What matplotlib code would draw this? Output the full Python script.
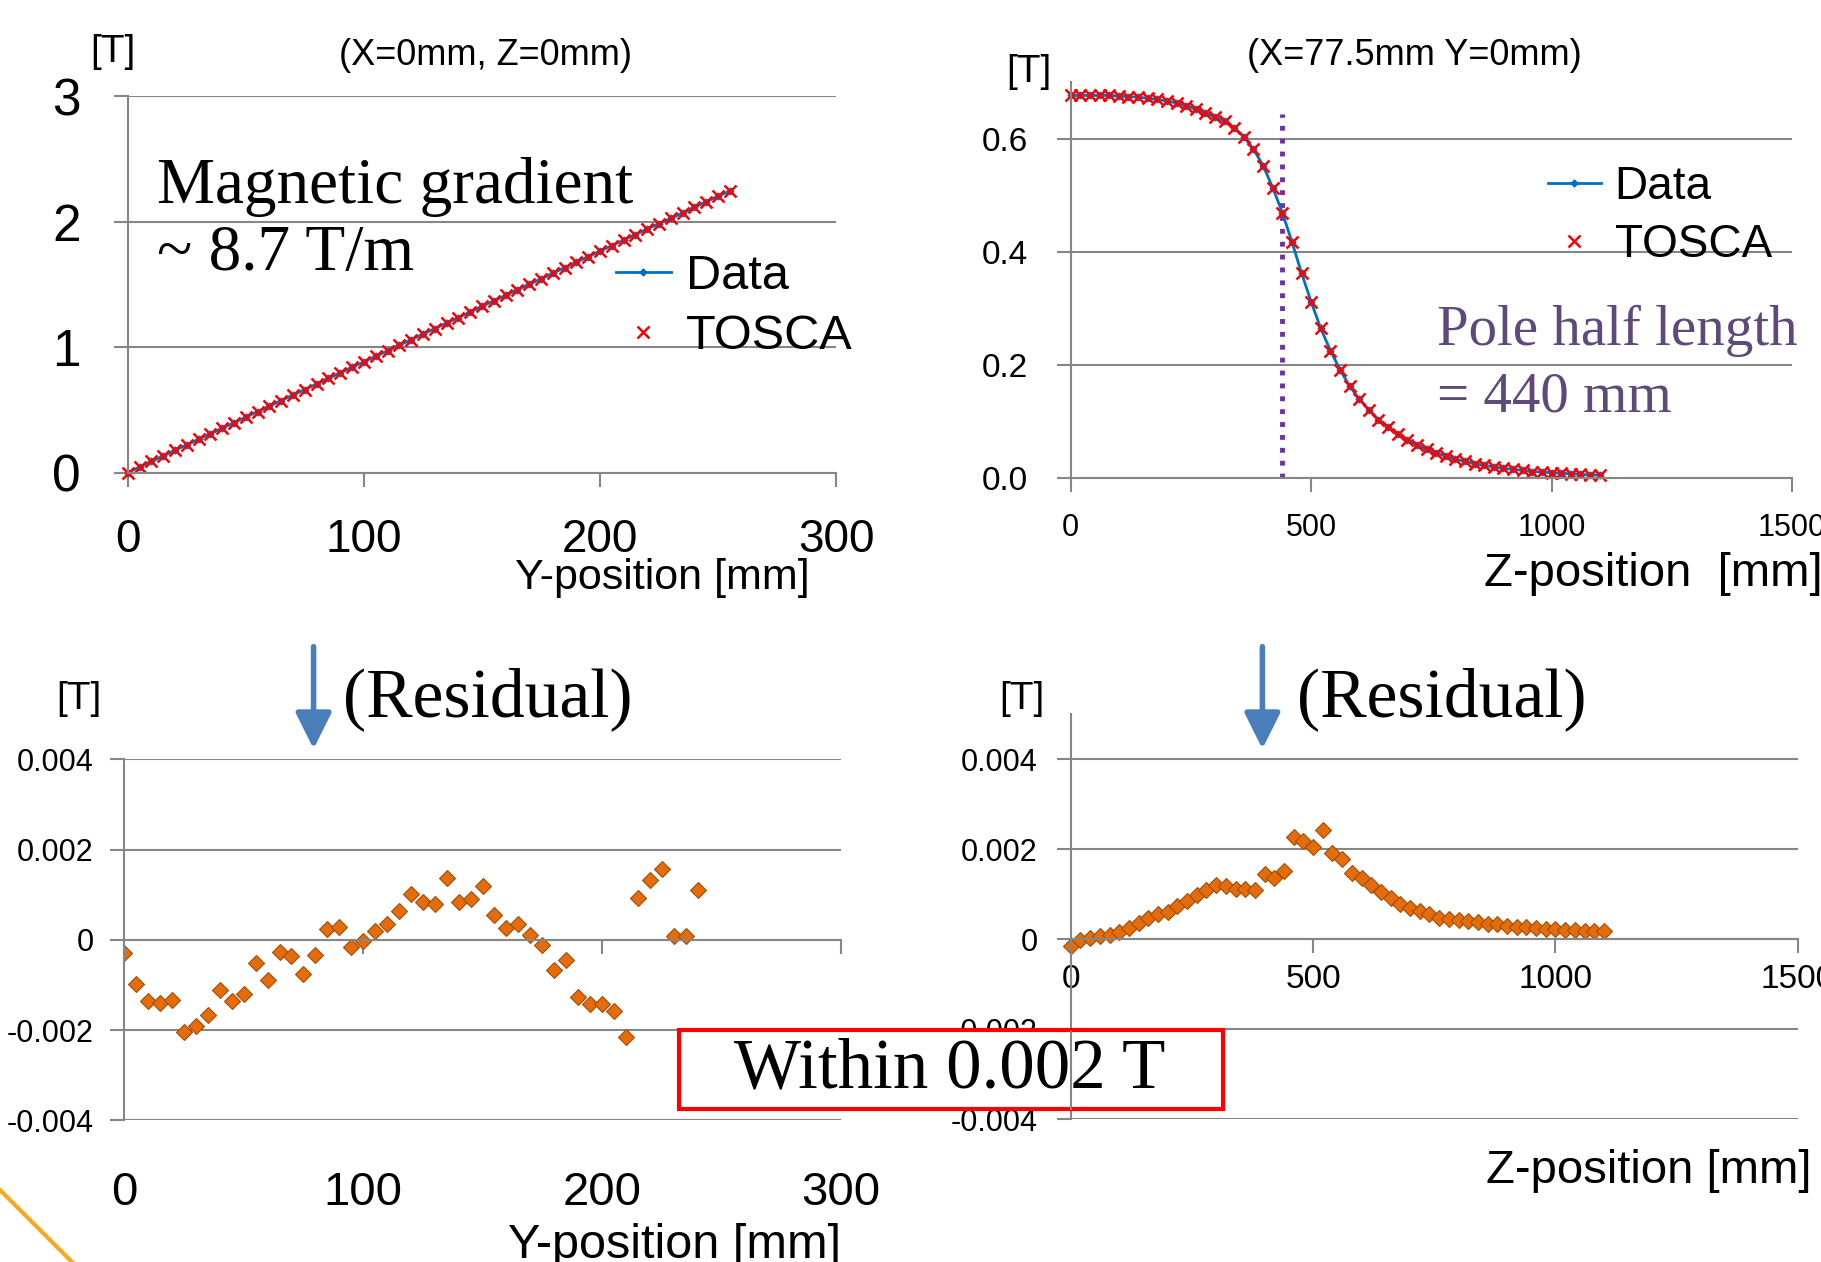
import numpy as np
import matplotlib.pyplot as plt
from matplotlib.lines import Line2D
from matplotlib.patches import Rectangle, FancyArrowPatch

plt.rcParams['font.family'] = ['Liberation Sans', 'DejaVu Sans']

# Y scan at X=0mm, Z=0mm  (field in T)
y_pos = np.arange(0, 256, 5)
by_data = [0.000, 0.044, 0.088, 0.132, 0.177, 0.221, 0.265, 0.309, 0.353, 0.397,
           0.442, 0.486, 0.530, 0.574, 0.618, 0.662, 0.706, 0.751, 0.795, 0.839,
           0.883, 0.927, 0.971, 1.015, 1.060, 1.104, 1.148, 1.192, 1.236, 1.280,
           1.325, 1.369, 1.413, 1.457, 1.501, 1.545, 1.589, 1.634, 1.678, 1.722,
           1.766, 1.810, 1.854, 1.898, 1.943, 1.985, 2.027, 2.070, 2.115, 2.160,
           2.205, 2.245]
by_tosca = by_data

# Z scan at X=77.5mm, Y=0mm
z_pos = np.arange(0, 1101, 20)
bz_data = [0.677, 0.677, 0.677, 0.677, 0.677, 0.676, 0.675, 0.674, 0.672, 0.670,
           0.667, 0.664, 0.659, 0.653, 0.646, 0.639, 0.631, 0.620, 0.604, 0.582,
           0.553, 0.514, 0.470, 0.418, 0.363, 0.312, 0.265, 0.226, 0.192, 0.163,
           0.140, 0.121, 0.104, 0.090, 0.078, 0.068, 0.059, 0.051, 0.045, 0.039,
           0.034, 0.030, 0.026, 0.023, 0.020, 0.018, 0.016, 0.014, 0.012, 0.011,
           0.010, 0.009, 0.008, 0.007, 0.006, 0.006]
bz_tosca = bz_data
pole_half = 440

# residuals (Data - TOSCA)
y_res_pos = np.arange(0, 241, 5)
y_resid = [-0.00029, -0.00097, -0.00136, -0.00140, -0.00134, -0.00204, -0.00192,
           -0.00167, -0.00111, -0.00136, -0.00121, -0.00051, -0.00088, -0.00026,
           -0.00035, -0.00075, -0.00033, 0.00023, 0.00028, -0.00016, -0.00003,
           0.00019, 0.00034, 0.00063, 0.00102, 0.00083, 0.00080, 0.00137, 0.00083,
           0.00090, 0.00120, 0.00056, 0.00026, 0.00034, 0.00011, -0.00011,
           -0.00067, -0.00044, -0.00127, -0.00143, -0.00143, -0.00158, -0.00215,
           0.00092, 0.00132, 0.00157, 0.00008, 0.00008, 0.00111]
z_resid = [-0.00016, -0.00003, 0.00003, 0.00006, 0.00009, 0.00016, 0.00025, 0.00035,
           0.00046, 0.00055, 0.00061, 0.00073, 0.00084, 0.00097, 0.00108, 0.00120,
           0.00119, 0.00112, 0.00112, 0.00108, 0.00145, 0.00135, 0.00152, 0.00227,
           0.00218, 0.00205, 0.00242, 0.00191, 0.00178, 0.00147, 0.00136, 0.00120,
           0.00105, 0.00092, 0.00077, 0.00069, 0.00063, 0.00055, 0.00048, 0.00044,
           0.00042, 0.00040, 0.00037, 0.00033, 0.00033, 0.00030, 0.00028, 0.00026,
           0.00025, 0.00023, 0.00022, 0.00021, 0.00020, 0.00019, 0.00019, 0.00019]

res_ticks = [-0.004, -0.002, 0, 0.002, 0.004]
res_labels = ['-0.004', '-0.002', '0', '0.002', '0.004']

grid_c = '#868686'
blue = '#0070C0'
serif = 'Liberation Serif'


# positions are given in the 1568x1087 reference frame
def fx(x):
    return x / 1568


def fy(y):
    return 1 - y / 1087


def rect(x0, y0, x1, y1):
    return [fx(x0), fy(y1), fx(x1) - fx(x0), fy(y0) - fy(y1)]


def style(ax, ysize, xsize, ypad, xpad):
    for s in ['top', 'right']:
        ax.spines[s].set_visible(False)
    for s in ['left', 'bottom']:
        ax.spines[s].set_color(grid_c)
        ax.spines[s].set_linewidth(1.5)
    ax.grid(axis='y', color=grid_c, lw=1.5)
    ax.set_axisbelow(True)
    ax.tick_params(axis='y', length=10, width=1.5, color=grid_c, labelsize=ysize, pad=ypad)
    ax.tick_params(axis='x', length=10, width=1.5, color=grid_c, labelsize=xsize, pad=xpad)


fig = plt.figure(figsize=(18.21, 12.62), dpi=100)

# top left: Y scan
ax1 = fig.add_axes(rect(110, 83, 720, 407))
style(ax1, 37, 33, 24, 23)
l1, = ax1.plot(y_pos, by_data, color=blue, lw=2, marker='D', ms=3.5, clip_on=False)
l2, = ax1.plot(y_pos, by_tosca, ls='none', marker='x', color='red', ms=8, mew=1.8, clip_on=False)
ax1.set_xlim(0, 300)
ax1.set_ylim(0, 3)
ax1.set_xticks([0, 100, 200, 300])
ax1.set_yticks([0, 1, 2, 3])
ax1.legend([l1, l2], ['Data', 'TOSCA'], loc='center left', bbox_to_anchor=(fx(530), fy(264)),
           bbox_transform=fig.transFigure, frameon=False, fontsize=35, handlelength=1.15,
           handletextpad=0.3, labelspacing=0.3, borderpad=0, borderaxespad=0)

# top right: Z scan
ax2 = fig.add_axes(rect(922, 71, 1543, 412))
style(ax2, 24, 22, 21, 15)
ax2.plot([pole_half, pole_half], [0, 0.645], ls=':', color='#7030A0', lw=3.5)
m1, = ax2.plot(z_pos, bz_data, color=blue, lw=2, marker='D', ms=3.5, clip_on=False)
m2, = ax2.plot(z_pos, bz_tosca, ls='none', marker='x', color='red', ms=8, mew=1.8, clip_on=False)
ax2.set_xlim(0, 1500)
ax2.set_ylim(0, 0.7)
ax2.set_xticks([0, 500, 1000, 1500])
ax2.set_yticks([0, 0.2, 0.4, 0.6])
ax2.set_yticklabels(['0.0', '0.2', '0.4', '0.6'])
ax2.legend([m1, m2], ['Data', 'TOSCA'], loc='center left', bbox_to_anchor=(fx(1333), fy(186)),
           bbox_transform=fig.transFigure, frameon=False, fontsize=33, handlelength=1.15,
           handletextpad=0.3, labelspacing=0.3, borderpad=0, borderaxespad=0)

# bottom left: residual along Y
ax3 = fig.add_axes(rect(107, 654, 724, 965))
style(ax3, 22, 33, 12, 0)
ax3.spines['bottom'].set_position(('data', 0))
ax3.plot(y_res_pos, y_resid, ls='none', marker='D', ms=8, mfc='#E46C0A', mec='#A04E0A', mew=0.8)
ax3.set_xlim(0, 300)
ax3.set_ylim(-0.004, 0.004)
ax3.set_xticks([0, 100, 200, 300])
ax3.tick_params(axis='x', labelbottom=False)
ax3.set_yticks(res_ticks)
ax3.set_yticklabels(res_labels)
sec = ax3.secondary_xaxis(-0.14)
sec.set_xticks([0, 100, 200, 300])
sec.spines['bottom'].set_visible(False)
sec.tick_params(length=0, labelsize=34, pad=0)

# bottom right: residual along Z
ax4 = fig.add_axes(rect(922, 615, 1548, 964))
style(ax4, 22, 24, 14, 8)
ax4.spines['bottom'].set_position(('data', 0))
ax4.plot(z_pos, z_resid, ls='none', marker='D', ms=8, mfc='#E46C0A', mec='#A04E0A', mew=0.8,
         clip_on=False)
ax4.set_xlim(0, 1500)
ax4.set_ylim(-0.004, 0.005)
ax4.set_xticks([0, 500, 1000, 1500])
ax4.set_yticks(res_ticks)
ax4.set_yticklabels(res_labels)

# texts, top row
fig.text(fx(97), fy(45), '[T]', fontsize=28, ha='center', va='center')
fig.text(fx(418), fy(48), '(X=0mm, Z=0mm)', fontsize=26, ha='center', va='center')
fig.text(fx(570), fy(498), 'Y-position [mm]', fontsize=31, ha='center', va='center')
fig.text(fx(135), fy(161), 'Magnetic gradient', family=serif, fontsize=47, ha='left', va='center')
fig.text(fx(135), fy(219), '~ 8.7 T/m', family=serif, fontsize=47, ha='left', va='center')
fig.text(fx(886), fy(62), '[T]', fontsize=28, ha='center', va='center')
fig.text(fx(1218), fy(48), '(X=77.5mm Y=0mm)', fontsize=26, ha='center', va='center')
fig.text(fx(1237), fy(285), 'Pole half length', family=serif, fontsize=41, color='#5F497A',
         ha='left', va='center')
fig.text(fx(1237), fy(342), '= 440 mm', family=serif, fontsize=41, color='#5F497A',
         ha='left', va='center')
fig.text(fx(1569), fy(494), 'Z-position  [mm]', fontsize=34, ha='right', va='center')

# texts, bottom row
for xa, xt, xb in [(270, 295, 68), (1087, 1117, 880)]:
    fig.text(fx(xb), fy(602), '[T]', fontsize=28, ha='center', va='center')
    fig.add_artist(FancyArrowPatch((fx(xa), fy(557)), (fx(xa), fy(645)), transform=fig.transFigure,
                                   arrowstyle='-|>', mutation_scale=55, lw=4, color='#4A7EBB',
                                   shrinkA=0, shrinkB=0))
    fig.text(fx(xt), fy(602), '(Residual)', family=serif, fontsize=50, ha='left', va='center')
fig.text(fx(581), fy(1073), 'Y-position [mm]', fontsize=35, ha='center', va='center')
fig.text(fx(1560), fy(1009), 'Z-position [mm]', fontsize=34, ha='right', va='center')

# highlight box
fig.add_artist(Rectangle((fx(585), fy(955)), fx(1053) - fx(585), fy(887) - fy(955),
                         transform=fig.transFigure, facecolor='white', edgecolor='red',
                         lw=3, zorder=5))
fig.add_artist(Line2D([fx(922), fx(922)], [fy(955), fy(889)], transform=fig.transFigure,
                      color=grid_c, lw=1.5, zorder=6))
fig.text(fx(818), fy(922), 'Within 0.002 T', family=serif, fontsize=51, ha='center',
         va='center', zorder=7)

# corner decoration
fig.add_artist(Line2D([0, fx(62)], [fy(1025), fy(1087)], transform=fig.transFigure,
                      color='#F7A81B', lw=3))

fig.savefig('out.png', dpi=100)
